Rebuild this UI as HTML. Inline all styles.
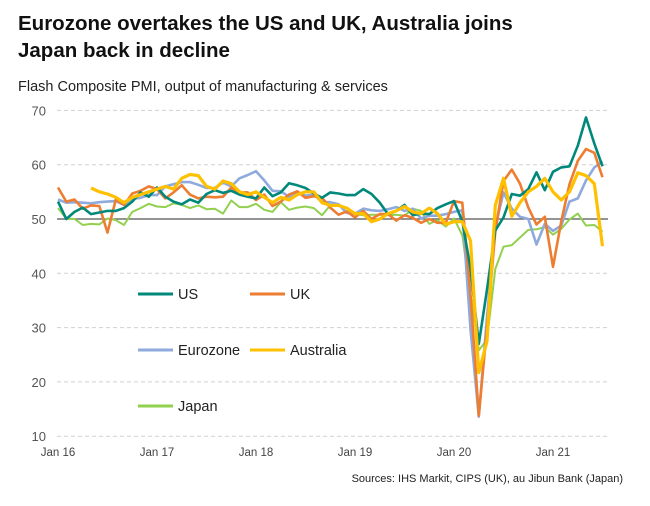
<!DOCTYPE html>
<html><head><meta charset="utf-8"><style>
body{margin:0;background:#fff;font-family:"Liberation Sans",Arial,sans-serif;}
#wrap{position:relative;width:650px;height:506px;overflow:hidden;}
.t{position:absolute;left:18px;font-weight:bold;font-size:20.5px;color:#111;}
</style></head><body>
<div id="wrap">
<div class="t" style="top:12px">Eurozone overtakes the US and UK, Australia joins</div>
<div class="t" style="top:39px">Japan back in decline</div>
<div style="position:absolute;left:18px;top:79px;font-size:14.5px;color:#222">Flash Composite PMI, output of manufacturing &amp; services</div>
<svg id="ch" width="650" height="506" style="position:absolute;left:0;top:0"></svg>
<div style="position:absolute;right:27px;top:473px;font-size:11px;color:#222">Sources: IHS Markit, CIPS (UK), au Jibun Bank (Japan)</div>
</div>
<script>
const yTicks=[10,20,30,40,50,60,70];
const xLabels=["Jan 16","Jan 17","Jan 18","Jan 19","Jan 20","Jan 21"];
const us=[53.2,50.0,51.3,52.1,50.9,51.2,51.5,51.5,52.0,53.2,54.9,54.1,55.8,54.1,53.2,52.7,53.6,53.0,54.6,55.3,54.8,55.2,54.5,54.1,53.8,55.8,54.2,54.9,56.6,56.2,55.7,54.7,53.9,54.9,54.7,54.4,54.4,55.5,54.6,53.0,50.9,51.5,52.6,50.7,51.0,50.9,52.0,52.7,53.3,49.6,40.9,27.0,37.0,47.9,50.3,54.6,54.3,55.5,58.6,55.3,58.7,59.5,59.7,63.5,68.7,63.9,59.7];
const uk=[55.8,53.2,53.6,51.9,52.5,52.4,47.5,53.6,52.6,54.7,55.2,56.0,55.5,53.8,54.9,56.2,54.5,53.8,54.1,54.0,54.1,55.8,54.9,54.9,53.5,54.5,52.4,53.2,54.5,55.1,53.9,54.2,53.9,52.1,50.8,51.4,50.3,51.5,50.0,50.9,50.9,49.7,50.7,50.2,49.3,50.0,49.3,49.3,53.3,53.0,36.0,13.8,30.0,47.7,57.0,59.1,56.5,52.1,49.0,50.4,41.2,49.6,56.4,60.7,62.9,62.2,57.7];
const ez=[53.6,53.0,53.1,53.0,52.9,53.1,53.2,53.3,52.6,53.7,53.9,54.4,54.4,56.0,56.4,56.8,56.8,56.3,55.7,55.7,56.7,56.0,57.5,58.1,58.8,57.1,55.2,55.1,54.1,54.9,54.3,54.5,53.1,53.1,52.7,51.1,51.0,51.9,51.6,51.5,51.8,52.2,51.5,51.9,50.1,50.6,50.6,50.9,51.3,51.6,29.7,13.6,31.9,48.5,54.9,51.9,50.4,50.0,45.3,49.1,47.8,48.8,53.2,53.8,57.1,59.5,60.6];
const au=[null,null,null,null,55.7,55.0,54.6,54.0,53.0,54.0,54.5,55.0,55.5,56.0,55.5,57.5,58.2,58.0,56.0,55.5,57.0,56.5,55.0,54.5,55.0,54.0,53.0,54.0,53.5,54.5,55.0,55.0,53.0,52.5,52.5,52.0,51.0,51.0,49.5,50.0,51.0,51.5,52.3,51.3,51.0,52.0,51.0,49.0,49.5,49.5,46.0,21.7,27.5,52.5,57.5,50.5,53.0,55.0,56.0,57.5,55.0,53.5,55.0,58.5,58.0,56.5,45.0];
const jp=[52.0,50.1,50.0,48.9,49.1,49.0,50.1,49.8,48.9,51.3,52.0,52.8,52.3,52.2,52.9,52.6,52.0,52.5,51.8,51.9,51.0,53.4,52.2,52.2,52.8,51.7,51.3,53.1,51.7,52.1,52.3,52.0,50.7,52.5,52.4,52.0,50.9,50.7,50.8,50.8,50.7,50.8,50.6,51.9,51.5,49.1,49.8,48.6,50.1,47.0,36.2,25.8,27.8,40.8,44.9,45.2,46.6,48.0,48.1,48.5,47.1,48.2,49.9,51.0,48.8,48.9,47.7];
const svg=document.getElementById('ch');const NS="http://www.w3.org/2000/svg";
const X0=58,XW=8.25,x=i=>X0+i*XW,y=v=>219-(v-50)*5.43;
function mk(t,a){const e=document.createElementNS(NS,t);for(const k in a)e.setAttribute(k,a[k]);svg.appendChild(e);return e;}
yTicks.forEach(v=>{
 if(v!==50){const g=mk('line',{x1:57,x2:608,y1:y(v),y2:y(v),stroke:'#d0d0d0','stroke-dasharray':'4,3'});
 
 }
 const t=mk('text',{x:46,y:y(v)+5,'text-anchor':'end','font-size':13,fill:'#555'});t.textContent=v;
 
 
});
const bl=mk('line',{x1:57,x2:608,y1:y(50),y2:y(50),stroke:'#555','stroke-width':1.2});


xLabels.forEach((l,i)=>{const t=mk('text',{x:x(i*12),y:456,'text-anchor':'middle','font-size':11.5,fill:'#444'});t.textContent=l;
 
 });
const series=[["japan",jp,"#92d050",2],["eurozone",ez,"#8faadc",2.6],["uk",uk,"#ed7d31",2.6],["us",us,"#00897b",2.6],["australia",au,"#ffc000",3.2]];
series.forEach(([n,d,c,w])=>{let p='';d.forEach((v,i)=>{if(v==null)return;p+=(p?'L':'M')+x(i).toFixed(1)+','+y(v).toFixed(1);});
 const e=mk('path',{d:p,fill:'none',stroke:c,'stroke-width':w,'stroke-linejoin':'round'});
 
 });
const leg=[["US","#00897b",138,294],["UK","#ed7d31",250,294],["Eurozone","#8faadc",138,350],["Australia","#ffc000",250,350],["Japan","#92d050",138,406]];
leg.forEach(([n,c,lx,ly])=>{const l=mk('line',{x1:lx,x2:lx+35,y1:ly,y2:ly,stroke:c,'stroke-width':3});
 
 
 const t=mk('text',{x:lx+40,y:ly+5,'font-size':14.5,fill:'#222'});t.textContent=n;
 
 });
</script>
</body></html>
